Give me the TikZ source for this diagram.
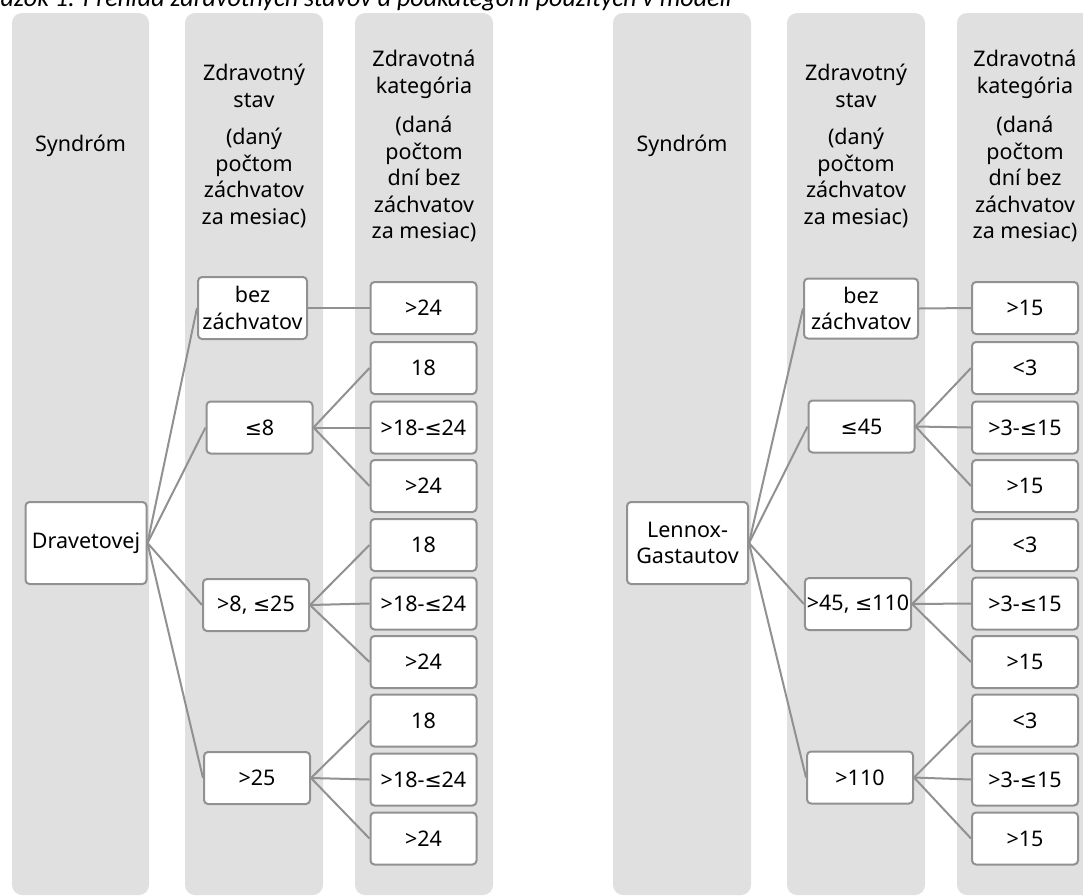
\documentclass[tikz,border=0pt]{standalone}
\usepackage{fontspec}
\setmainfont{Noto Sans}
\newfontfamily\symfont{DejaVu Sans}[Scale=0.95]
\newfontfamily\titlefont{Carlito}
\newcommand{\lesym}{{\symfont ≤}}
\definecolor{colbg}{RGB}{224,224,224}
\definecolor{edgegray}{RGB}{145,145,145}
\begin{document}
\begin{tikzpicture}[x=1pt,y=-1pt,
  colbox/.style={fill=colbg, rounded corners=10pt},
  hdr/.style={align=center, font=\fontsize{21.5}{26.5}\selectfont, inner sep=0pt},
  box/.style={draw=edgegray, line width=2pt, fill=white, rounded corners=4pt,
    align=center, font=\fontsize{21.5}{26.5}\selectfont, inner xsep=2pt, inner ysep=0pt,
    minimum width=106pt, minimum height=52pt},
  rootbox/.style={box, minimum width=121pt, minimum height=82pt},
  conn/.style={draw=edgegray, line width=2pt}
]
\useasboundingbox (0,0) rectangle (1083,895);
\clip (0,0) rectangle (1083,895);

% title (partly cut off at the top and left)
\node[anchor=base west, inner sep=0pt, font=\titlefont\itshape\fontsize{26}{29}\selectfont] (title) at (0.5,6.5)
  {\llap{Obr}ázok 1: Prehľad zdravotných stavov a podkategórií použitých v modeli};

% background columns
\fill[colbox] (12,13) rectangle (149,895);
\fill[colbox] (185,13) rectangle (323,895);
\fill[colbox] (355,13) rectangle (493,895);
\fill[colbox] (613,13) rectangle (751,895);
\fill[colbox] (787,13) rectangle (925,895);
\fill[colbox] (957,13) rectangle (1100,895);

% headers
\node[hdr] (hL1) at (80.5,146) {Syndróm};
\node[hdr] (hL2) at (254,146) {Zdravotný\\stav\\[11pt](daný\\počtom\\záchvatov\\za mesiac)};
\node[hdr] (hL3) at (424,146) {Zdravotná\\kategória\\[13pt](daná\\počtom\\dní bez\\záchvatov\\za mesiac)};
\node[hdr] (hR1) at (682,146) {Syndróm};
\node[hdr] (hR2) at (856,146) {Zdravotný\\stav\\[11pt](daný\\počtom\\záchvatov\\za mesiac)};
\node[hdr] (hR3) at (1025,146) {Zdravotná\\kategória\\[13pt](daná\\počtom\\dní bez\\záchvatov\\za mesiac)};

% ---------- left tree ----------
\node[rootbox] (dr) at (86,543) {Dravetovej};
\node[box, minimum width=109pt, minimum height=62pt] (lbez) at (252.5,308) {bez\\záchvatov};
\node[box] (lle8) at (259.5,427.5) {\lesym8};
\node[box] (lmid) at (256,605) {>8, \lesym25};
\node[box] (lgt) at (257,778) {>25};

\node[box] (la0) at (423.5,308) {>24};
\node[box] (la1) at (423.5,368) {18};
\node[box] (la2) at (423.5,427.5) {>18-\lesym24};
\node[box] (la3) at (423.5,486) {>24};
\node[box] (lb1) at (423.5,545) {18};
\node[box] (lb2) at (423.5,603.5) {>18-\lesym24};
\node[box] (lb3) at (423.5,662) {>24};
\node[box] (lc1) at (423.5,720.5) {18};
\node[box] (lc2) at (423.5,779.5) {>18-\lesym24};
\node[box] (lc3) at (423.5,838.5) {>24};

\foreach \t in {lbez,lle8,lmid,lgt} \draw[conn] (dr.east) -- (\t.west);
\draw[conn] (lbez.east) -- (la0.west);
\foreach \t in {la1,la2,la3} \draw[conn] (lle8.east) -- (\t.west);
\foreach \t in {lb1,lb2,lb3} \draw[conn] (lmid.east) -- (\t.west);
\foreach \t in {lc1,lc2,lc3} \draw[conn] (lgt.east) -- (\t.west);

% ---------- right tree ----------
\node[rootbox] (lg) at (687.5,543) {Lennox-\\Gastautov};
\node[box, minimum width=114pt, minimum height=60pt] (rbez) at (861,308.5) {bez\\záchvatov};
\node[box] (rle) at (861.5,426.5) {\lesym45};
\node[box] (rmid) at (858,604) {>45, \lesym110};
\node[box] (rgt) at (860,777.5) {>110};

\node[box] (ra0) at (1025,308) {>15};
\node[box] (ra1) at (1025,368) {<3};
\node[box] (ra2) at (1025,427.5) {>3-\lesym15};
\node[box] (ra3) at (1025,486) {>15};
\node[box] (rb1) at (1025,545) {<3};
\node[box] (rb2) at (1025,603.5) {>3-\lesym15};
\node[box] (rb3) at (1025,662) {>15};
\node[box] (rc1) at (1025,720.5) {<3};
\node[box] (rc2) at (1025,779.5) {>3-\lesym15};
\node[box] (rc3) at (1025,838.5) {>15};

\foreach \t in {rbez,rle,rmid,rgt} \draw[conn] (lg.east) -- (\t.west);
\draw[conn] (rbez.east) -- (ra0.west);
\foreach \t in {ra1,ra2,ra3} \draw[conn] (rle.east) -- (\t.west);
\foreach \t in {rb1,rb2,rb3} \draw[conn] (rmid.east) -- (\t.west);
\foreach \t in {rc1,rc2,rc3} \draw[conn] (rgt.east) -- (\t.west);
\end{tikzpicture}
\end{document}
